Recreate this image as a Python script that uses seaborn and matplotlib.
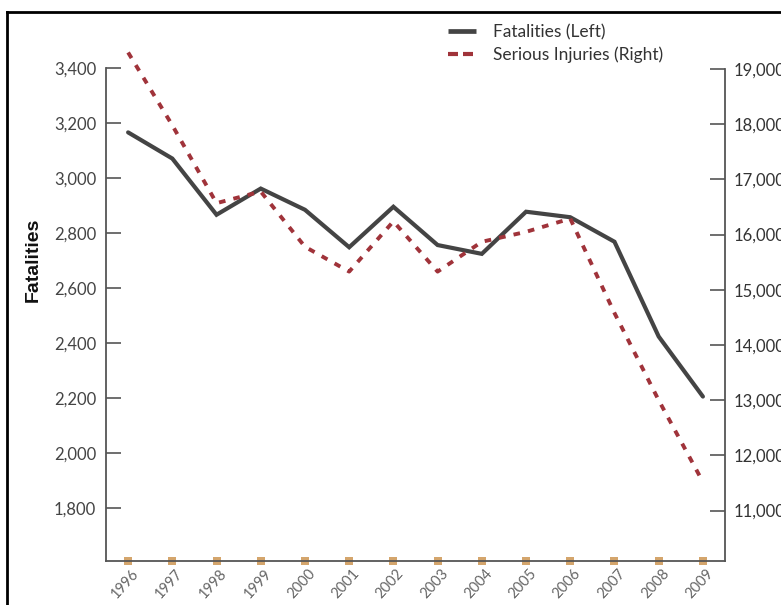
import numpy as np
import pandas as pd
import matplotlib
matplotlib.use("Agg")
import matplotlib.pyplot as plt
import matplotlib.transforms as mtransforms
from matplotlib.lines import Line2D
import seaborn as sns

# Road safety figures by year
years = [1996, 1997, 1998, 1999, 2000, 2001, 2002, 2003, 2004, 2005, 2006, 2007, 2008, 2009]
fatalities = [3165, 3070, 2866, 2961, 2884, 2748, 2895, 2756, 2724, 2877, 2857, 2768, 2424, 2206]
serious_injuries = [19300, 17980, 16570, 16780, 15780, 15330, 16240, 15330, 15870, 16050, 16290, 14580, 13000, 11520]

left_ticks = [1800, 2000, 2200, 2400, 2600, 2800, 3000, 3200, 3400]
right_ticks = [11000, 12000, 13000, 14000, 15000, 16000, 17000, 18000, 19000]

df = pd.DataFrame({"Year": years, "Fatalities": fatalities, "Serious Injuries": serious_injuries})

sns.set_style("white")
plt.rcParams["font.family"] = ["Lato", "DejaVu Sans"]

W, H = 781, 605
fig = plt.figure(figsize=(W / 100, H / 100), dpi=100)
ax = fig.add_axes([106 / W, 1 - 561 / H, (725 - 106) / W, (561 - 20) / H])
ax2 = ax.twinx()

dark = "#444444"
red = "#a0333a"
tan = "#d4a56c"

sns.lineplot(data=df, x="Year", y="Fatalities", ax=ax, color=dark, lw=3.0,
             solid_joinstyle="miter", legend=False)
sns.lineplot(data=df, x="Year", y="Serious Injuries", ax=ax2, color=red, lw=2.8,
             linestyle=(0, (1.7, 2.1)), dash_capstyle="butt", legend=False)

ax.set_xlim(years[0] - 0.5, years[-1] + 0.5)
ax.set_ylim(1609, 3573)
ax2.set_ylim(10087, 19888)

# Spines
for a in (ax, ax2):
    a.spines["top"].set_visible(False)
ax.spines["right"].set_visible(False)
ax2.spines["left"].set_visible(False)
ax2.spines["bottom"].set_visible(False)
ax.spines["left"].set_bounds(1609, 3400)
ax2.spines["right"].set_bounds(10087, 19000)
for a, s in ((ax, "left"), (ax, "bottom"), (ax2, "right")):
    a.spines[s].set_color("#555555")
    a.spines[s].set_linewidth(1.3)

# Left axis
ax.set_yticks(left_ticks)
ax.set_yticklabels([f"{v:,}" for v in left_ticks])
ax.tick_params(axis="y", direction="in", length=10.5, width=1.2, color="#555555",
               labelsize=12, labelcolor="#444444", pad=7, left=True)
ax.set_ylabel("Fatalities", family=["Liberation Sans"], fontweight="bold",
              fontsize=14, color="#111111")
ax.yaxis.set_label_coords(-0.103, 0.556)

# Right axis
ax2.set_yticks(right_ticks)
ax2.set_yticklabels([f"{v:,}" for v in right_ticks])
ax2.tick_params(axis="y", direction="in", length=11, width=1.2, color="#555555",
                labelsize=12, labelcolor="#333333", pad=6, right=True)
ax2.set_ylabel("")

# Bottom axis: square markers at each year
ax.set_xticks(years)
ax.set_xticklabels([str(y) for y in years])
ax.set_xlabel("")
ax.tick_params(axis="x", bottom=True, length=0, labelsize=10.5, labelcolor="#666666", pad=4)
for t in ax.xaxis.get_major_ticks():
    t.tick1line.set_marker("s")
    t.tick1line.set_markersize(6)
    t.tick1line.set_markerfacecolor(tan)
    t.tick1line.set_markeredgecolor(tan)
    t.tick1line.set_markeredgewidth(0)
    t.tick1line.set_clip_on(False)
offset = mtransforms.ScaledTranslation(3 / 100, 0, fig.dpi_scale_trans)
for lbl in ax.get_xticklabels():
    lbl.set_rotation(48)
    lbl.set_ha("right")
    lbl.set_rotation_mode("anchor")
    lbl.set_transform(lbl.get_transform() + offset)

# Legend
handles = [
    Line2D([], [], color=dark, lw=3.4, solid_capstyle="butt"),
    Line2D([], [], color=red, lw=3.0, linestyle=(0, (2.4, 1.2)), dash_capstyle="butt"),
]
fig.legend(handles, ["Fatalities (Left)", "Serious Injuries (Right)"],
           loc="upper left", bbox_to_anchor=(448 / W, 1 - 24 / H),
           bbox_transform=fig.transFigure, frameon=False, fontsize=12.5,
           labelcolor="#333333", handlelength=1.6, handletextpad=1.0,
           labelspacing=0.35, borderpad=0, borderaxespad=0)

# Page frame
fig.add_artist(Line2D([7.5 / W, 7.5 / W], [0, 1 - 11.5 / H], color="black", lw=2.0,
                      transform=fig.transFigure, solid_capstyle="projecting"))
fig.add_artist(Line2D([7.5 / W, 1], [1 - 11.5 / H, 1 - 11.5 / H], color="black", lw=2.0,
                      transform=fig.transFigure, solid_capstyle="projecting"))

fig.savefig("out.png", dpi=100, facecolor="white")
